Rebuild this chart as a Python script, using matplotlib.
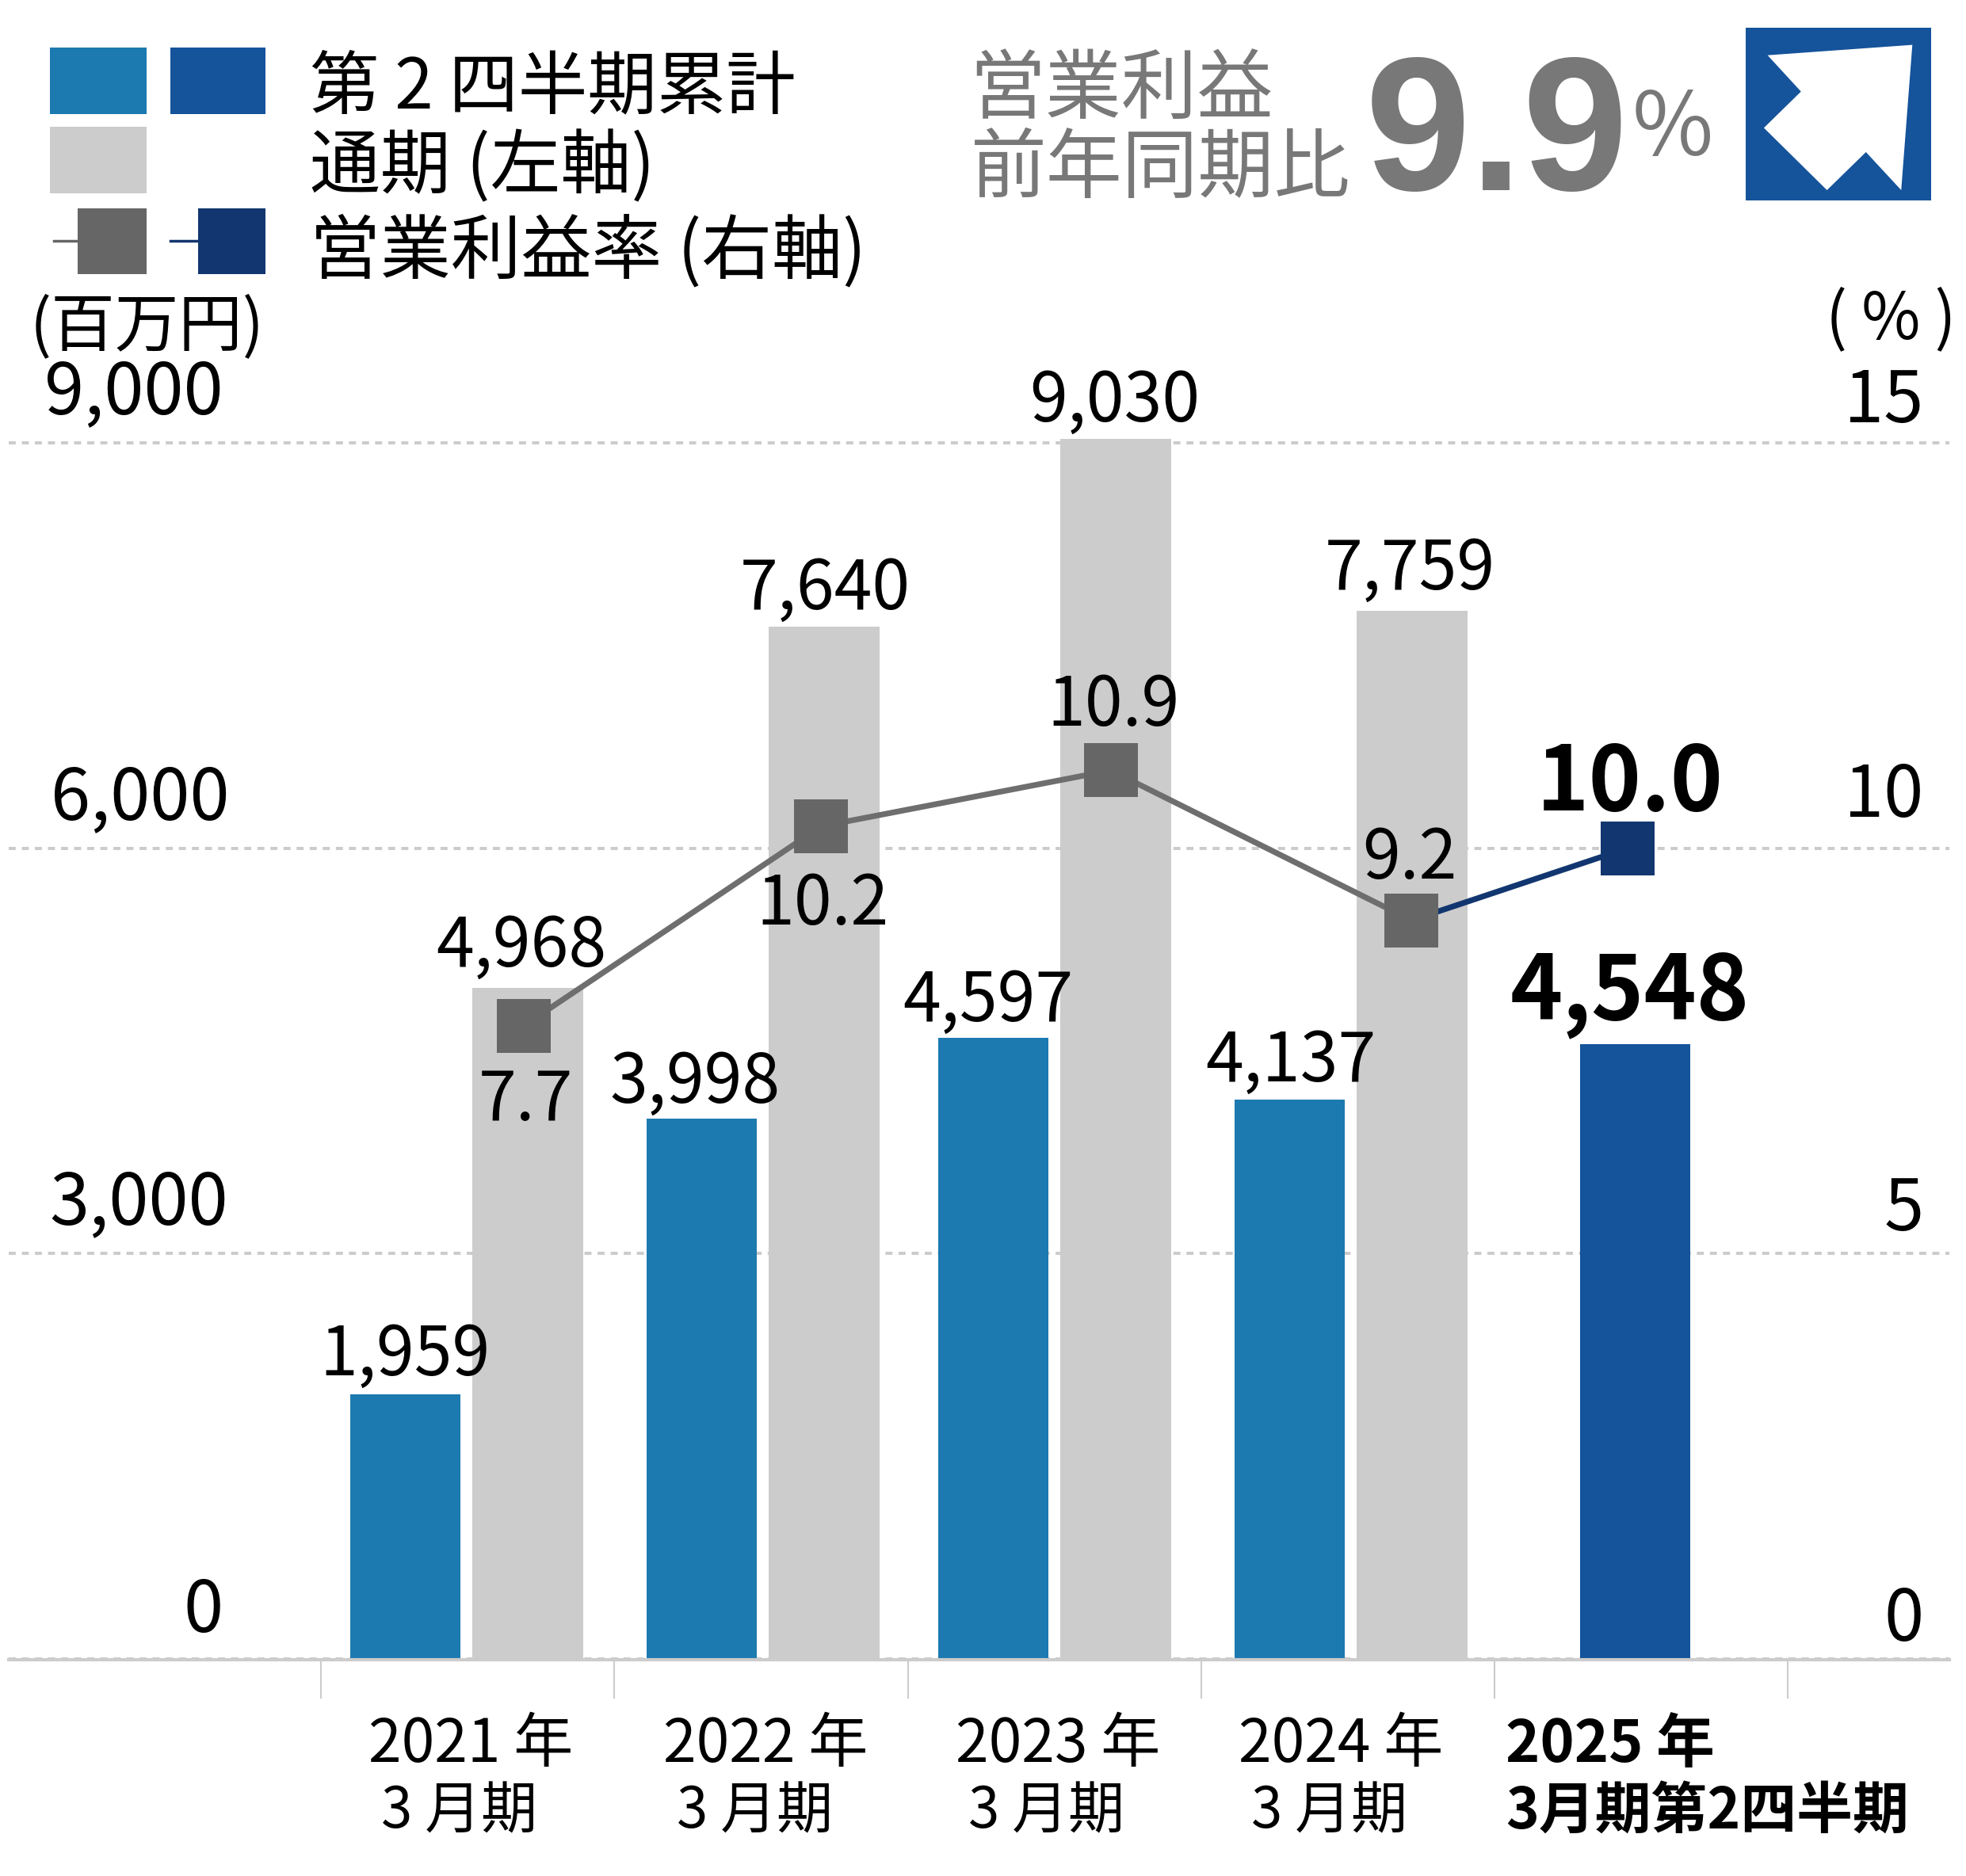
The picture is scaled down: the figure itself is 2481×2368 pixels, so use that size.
import matplotlib
matplotlib.use("Agg")
import matplotlib.pyplot as plt
from matplotlib.patches import Polygon, Rectangle

plt.rcParams['font.family'] = ['Noto Sans CJK JP', 'DejaVu Sans']

# data
half_year = [1959, 3998, 4597, 4137]
full_year = [4968, 7640, 9030, 7759]
half_year_now = [4548]
margin = [7.7, 10.2, 10.9, 9.2, 10.0]  # printed labels
margin_marks = [7.81, 10.27, 10.96, 9.11, 10.0]  # where the squares sit on the right scale
left_ticks = [0, 3000, 6000, 9000]
right_ticks = [0, 5, 10, 15]
year_labels = ['2021 年', '2022 年', '2023 年', '2024 年', '2025 年']
period_labels = ['3 月期', '3 月期', '3 月期', '3 月期', '3月期第2四半期']

# colours
BLUE = '#1c7ab0'
DARK_BLUE = '#15539b'
NAVY = '#12366f'
LIGHT = '#cccccc'
GREY = '#666666'
HEAD_GREY = '#787878'

W, H = 2481, 2368
SX = 1568
SY = 1497
fig = plt.figure(figsize=(W / 100, H / 100), dpi=100)

# overlay in the coordinates of the shrunk picture
ov = fig.add_axes([0, 0, 1, 1], zorder=5)
ov.set_xlim(0, SX)
ov.set_ylim(SY, 0)
ov.axis('off')
ov.patch.set_alpha(0)

# chart axes
L, R, BASE, TOP = 7, 1555, 1323.5, 353.5
ax = fig.add_axes([L / SX, 1 - BASE / SY, (R - L) / SX, (BASE - TOP) / SY])
ax.set_xlim((L - 256) / 234, (R - 256) / 234)
ax.set_ylim(0, 9000)
ax2 = ax.twinx()
ax2.set_ylim(0, 15)
ax2.set_zorder(ax.get_zorder() + 1)
ax2.patch.set_alpha(0)

for a in (ax, ax2):
    for s in a.spines.values():
        s.set_visible(False)
    a.set_yticks([])
ax.spines['bottom'].set_visible(True)
ax.spines['bottom'].set_color(LIGHT)
ax.spines['bottom'].set_linewidth(3)
ax.spines['bottom'].set_position(('outward', 1))
ax.set_xticks(range(0, 6))
ax.set_xticklabels([])
ax.tick_params(axis='x', length=35, width=1.5, color=LIGHT, pad=0)

ax.set_yticks(left_ticks)
ax.set_yticklabels([])
ax.tick_params(axis='y', length=0)
ax.set_axisbelow(True)
ax.grid(axis='y', color=LIGHT, linewidth=2.9, linestyle=(0, (2.2, 1.9)), clip_on=False)
ax.spines['top'].set_visible(False)

# bars, group centres nudged a little as in the original
nudge = [-0.004, 0.006, 0, 0.01]
OFF = 0.209
BW = 0.376
blue_x = [i + 0.5 + nudge[i] - OFF for i in range(4)]
grey_x = [i + 0.5 + nudge[i] + OFF for i in range(4)]
ax.bar(blue_x, half_year, width=BW, color=BLUE, zorder=2, clip_on=False)
ax.bar(grey_x, full_year, width=BW, color=LIGHT, zorder=2, clip_on=False)
now_x = [4.479]
ax.bar(now_x, half_year_now, width=BW, color=DARK_BLUE, zorder=2)

# margin line
line_x = [0.692, 1.705, 2.692, 3.717, 4.453]
ax2.plot(line_x[3:], margin_marks[3:], color=NAVY, linewidth=5.2, zorder=3)
ax2.plot(line_x[:4], margin_marks[:4], color='#6e6e6e', linewidth=5.2, zorder=3)
ax2.plot(line_x[4:], margin_marks[4:], 's', color=NAVY, markersize=49, markeredgewidth=0, zorder=4)
ax2.plot(line_x[:4], margin_marks[:4], 's', color=GREY, markersize=49, markeredgewidth=0, zorder=4)

NUM = 62


def txt(x, y, s, size=NUM, color='black', ha='left', weight='normal', family=None):
    kw = {}
    if family:
        kw['family'] = family
    ov.text(x, y, s, fontsize=size, color=color, ha=ha, va='baseline', fontweight=weight, **kw)


def shown_x(v):
    return ax.transData.transform((v, 0))[0] / W * SX


def shown_y(a, v):
    return SY - a.transData.transform((0, v))[1] / H * SY


# value labels
blue_dy = [15, 13, 13, 15]
blue_nudge = [0, -5, -4, 1]
for x, v, d, n in zip(blue_x, half_year, blue_dy, blue_nudge):
    txt(shown_x(x) + n, shown_y(ax, v) - d, f'{v:,}', ha='center')
grey_dy = [17, 14, 14, 17]
grey_nudge = [-5, 1, -1, -2]
for x, v, d, n in zip(grey_x, full_year, grey_dy, grey_nudge):
    txt(shown_x(x) + n, shown_y(ax, v) - d, f'{v:,}', ha='center')
txt(1300, 813, f'{half_year_now[0]:,}', size=81, ha='center', weight='bold')
rate_pos = [(419, 894), (656, 738), (888, 579), (1124, 701)]
for (x, y), v in zip(rate_pos, margin):
    txt(x, y, f'{v:.1f}', ha='center')
txt(1300, 647, f'{margin[4]:.1f}', size=81, ha='center', weight='bold')

# axis labels
left_x = [178, 182, 183, 178]
left_y = [1302, 977, 654, 330]
for v, x, y in zip(left_ticks, left_x, left_y):
    txt(x, y, f'{v:,}', size=65, ha='right')
right_y = [1309, 982, 652, 337]
for v, y in zip(right_ticks, right_y):
    txt(1534, y, str(v), size=65, ha='right')
txt(24, 276, '(百万円)', size=58)
txt(1456, 270, '( % )', size=58)

# category labels
year_x = [294, 529, 762, 988, 1201]
period_x = [304, 540, 772, 998, 1201]
for i in range(5):
    w = 'bold' if i == 4 else 'normal'
    txt(year_x[i], 1406, year_labels[i], size=53 if i == 4 else 54, weight=w)
    txt(period_x[i], 1459, period_labels[i], size=51, weight=w)

# legend
ov.add_patch(Rectangle((40, 38), 77, 53, color=BLUE, lw=0))
ov.add_patch(Rectangle((136, 38), 76, 53, color=DARK_BLUE, lw=0))
ov.add_patch(Rectangle((40, 101), 77, 53, color=LIGHT, lw=0))
ov.add_patch(Rectangle((62, 166), 55, 53, color=GREY, lw=0))
ov.add_patch(Rectangle((158, 166), 54, 53, color=NAVY, lw=0))
ov.plot([43, 62], [192, 192], color=GREY, linewidth=2.5)
ov.plot([136, 158], [192, 192], color=NAVY, linewidth=2.5)
txt(247, 86, '第 2 四半期累計', size=63)
txt(247, 150, '通期 (左軸)', size=64)
txt(247, 218, '営業利益率 (右軸)', size=64)

# header
txt(773, 90, '営業利益', size=69, color=HEAD_GREY)
txt(774, 153, '前年同期比', size=69, color=HEAD_GREY)
txt(1089, 152, '9.9', size=172, color=HEAD_GREY, weight='bold', family='Liberation Sans')
txt(1302, 124, '%', size=80, color=HEAD_GREY)

# arrow icon
ov.add_patch(Rectangle((1392, 22), 148, 138, color=DARK_BLUE, lw=0))
arrow = [(0.12, 0.16), (0.90, 0.10), (0.84, 0.94), (0.65, 0.72),
         (0.44, 0.94), (0.10, 0.58), (0.30, 0.37)]
ov.add_patch(Polygon([(1392 + a * 148, 22 + b * 138) for a, b in arrow], color='white', lw=0))

fig.savefig('out.png', dpi=100, facecolor='white')
